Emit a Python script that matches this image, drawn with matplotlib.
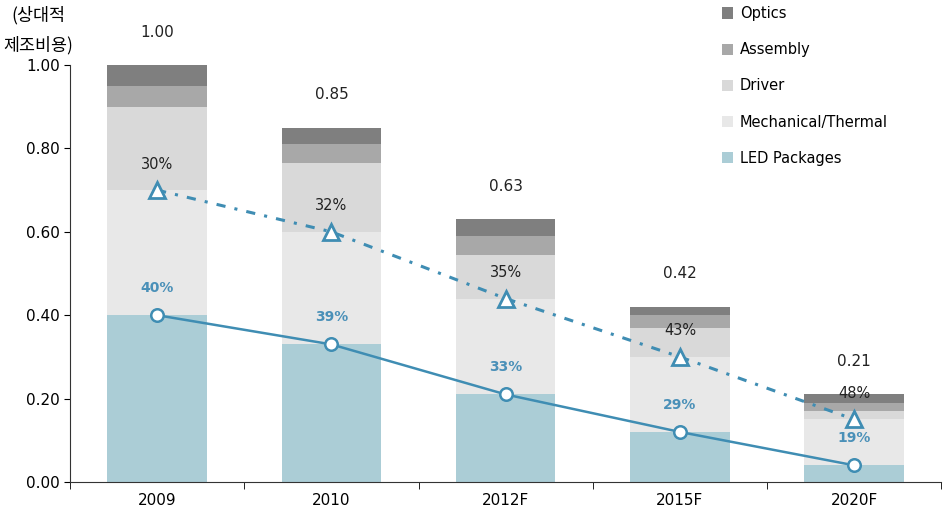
import matplotlib
matplotlib.use("Agg")
import matplotlib.pyplot as plt
import numpy as np
from matplotlib.patches import Patch

plt.rcParams['font.family'] = ['DejaVu Sans', 'Noto Sans CJK KR']

categories = ["2009", "2010", "2012F", "2015F", "2020F"]
led = [0.40, 0.33, 0.21, 0.12, 0.04]
mech = [0.30, 0.27, 0.23, 0.18, 0.11]
driver = [0.20, 0.165, 0.105, 0.07, 0.02]
assembly = [0.05, 0.045, 0.045, 0.03, 0.02]
optics = [0.05, 0.04, 0.04, 0.02, 0.02]
totals = ["1.00", "0.85", "0.63", "0.42", "0.21"]
led_share = ["40%", "39%", "33%", "29%", "19%"]
mech_share = ["30%", "32%", "35%", "43%", "48%"]
yticks = [0.0, 0.2, 0.4, 0.6, 0.8, 1.0]

series = [("LED Packages", led, "#abcdd6"),
          ("Mechanical/Thermal", mech, "#e8e8e8"),
          ("Driver", driver, "#d9d9d9"),
          ("Assembly", assembly, "#a8a8a8"),
          ("Optics", optics, "#7f7f7f")]

fig = plt.figure(figsize=(9.46, 5.18), dpi=100)
ax = fig.add_axes([0.074, 0.0695, 0.921, 0.805])

x = np.arange(len(categories))
bottom = np.zeros(len(categories))
handles = []
for name, vals, col in series:
    ax.bar(x, vals, width=0.57, bottom=bottom, color=col, edgecolor='none', zorder=1)
    bottom = bottom + np.array(vals)
    handles.append(Patch(facecolor=col, edgecolor='none', label=name))

line_col = "#3f8db3"
led_arr = np.array(led)
cum2 = led_arr + np.array(mech)
ax.plot(x, led_arr, color=line_col, lw=1.8, marker='o', ms=9, mfc='white',
        mec=line_col, mew=1.8, zorder=3)
ax.plot(x, cum2, color=line_col, lw=2.2, linestyle=(0, (3, 3, 1, 3)),
        marker='^', ms=11, mfc='white', mec=line_col, mew=2, zorder=3)

for i in range(len(categories)):
    ax.annotate(totals[i], (x[i], bottom[i]), xytext=(0, 33), textcoords='offset pixels',
                ha='center', va='center', fontsize=11, color='#222222', annotation_clip=False)
    ax.annotate(mech_share[i], (x[i], cum2[i]), xytext=(0, 26), textcoords='offset pixels',
                ha='center', va='center', fontsize=10.5, color='#222222', zorder=4)
    ax.annotate(led_share[i], (x[i], led_arr[i]), xytext=(0, 27), textcoords='offset pixels',
                ha='center', va='center', fontsize=10, color='#4a90b8', fontweight='bold', zorder=4)

ax.set_xlim(-0.5, len(categories) - 0.5)
ax.set_ylim(0, 1.0)
ax.set_yticks(yticks)
ax.set_yticklabels([f"{v:.2f}" for v in yticks], fontsize=11)
ax.set_xticks(x)
ax.set_xticklabels(categories, fontsize=11)
ax.set_xticks(np.arange(len(categories) + 1) - 0.5, minor=True)
ax.tick_params(axis='x', which='major', length=0, pad=8)
ax.tick_params(axis='x', which='minor', length=5, direction='out')
ax.tick_params(axis='y', length=4, direction='out')
for s in ['top', 'right']:
    ax.spines[s].set_visible(False)
ax.spines['left'].set_color('#333333')
ax.spines['bottom'].set_color('#333333')

fig.text(0.041, 0.970, "(상대적", ha='center', va='center', fontsize=12.5,
         family=['Noto Sans CJK KR', 'DejaVu Sans'])
fig.text(0.040, 0.912, "제조비용)", ha='center', va='center', fontsize=12.5,
         family=['Noto Sans CJK KR', 'DejaVu Sans'])

leg = fig.legend(handles=handles[::-1], loc='upper left', bbox_to_anchor=(0.752, 1.008),
                 frameon=False, fontsize=10.5, handlelength=0.8, handleheight=0.8,
                 handletextpad=0.45, labelspacing=1.45, borderaxespad=0.3)

fig.savefig("out.png", dpi=100)
